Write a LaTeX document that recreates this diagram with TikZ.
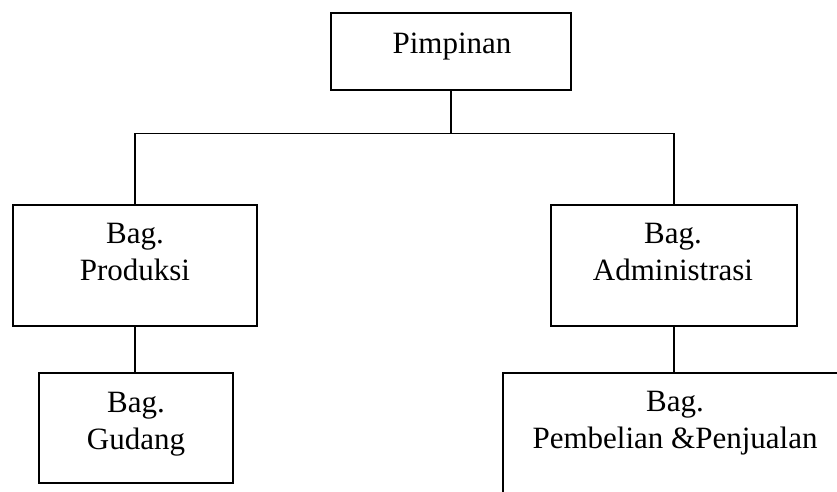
\documentclass[tikz,border=0pt]{standalone}
\usepackage{fontspec}
\setmainfont{Liberation Serif}
\begin{document}
\begin{tikzpicture}[x=1pt,y=-1pt,
  box/.style={draw, line width=1.3pt, rectangle, inner sep=0pt},
  lbl/.style={font=\fontsize{31}{37}\selectfont, align=center, anchor=base, inner sep=0pt},
  conn/.style={line width=1.3pt}]
\useasboundingbox (0,0) rectangle (837,491);
\clip (0,0) rectangle (837,491);
% boxes
\node[box, minimum width=240pt, minimum height=77pt] (top) at (451,51.5) {};
\node[box, minimum width=244pt, minimum height=121pt] (prod) at (135,265.5) {};
\node[box, minimum width=246pt, minimum height=121pt] (adm) at (674,265.5) {};
\node[box, minimum width=194pt, minimum height=110pt] (gud) at (136,428) {};
\node[box, minimum width=340pt, minimum height=147pt] (pemb) at (673,446.5) {};
% labels
\node[lbl] (tTop) at (452,53) {Pimpinan};
\node[lbl] (tProd) at (135,280) {Bag.\\Produksi};
\node[lbl] (tAdm) at (673,280) {Bag.\\Administrasi};
\node[lbl] (tGud) at (136,449) {Bag.\\Gudang};
\node[lbl] (tPemb) at (675,448) {Bag.\\Pembelian \&Penjualan};
% connectors
\draw[conn] (top.south) -- ++(0,43) -| (prod.north);
\draw[conn] (top.south) ++(0,43) -| (adm.north);
\draw[conn] (prod.south) -- (prod.south |- gud.north);
\draw[conn] (adm.south) -- (adm.south |- pemb.north);
\end{tikzpicture}
\end{document}
